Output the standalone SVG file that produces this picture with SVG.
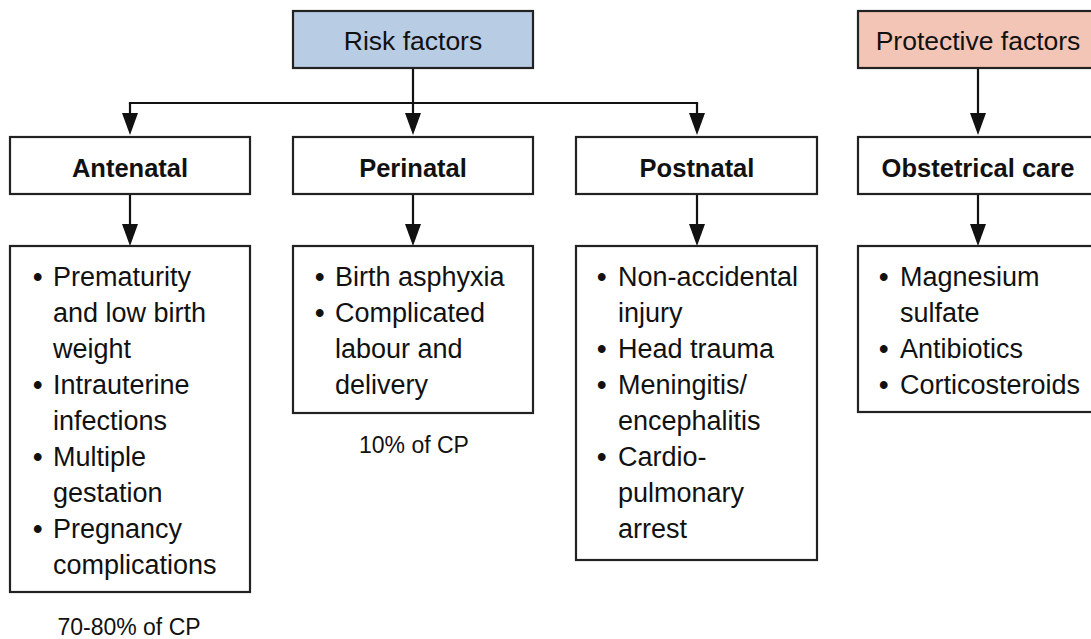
<svg xmlns="http://www.w3.org/2000/svg" width="1091" height="639" viewBox="0 0 1091 639">
<style>
.box{fill:#fff;stroke:#222;stroke-width:2.2}
.risk{fill:#b8cce4}
.prot{fill:#f3c5b6}
.t{font-family:"Liberation Sans",Arial,sans-serif;fill:#111}
.title{font-size:26.5px;text-anchor:middle}
.hdr{font-size:25.5px;font-weight:bold;text-anchor:middle}
.li{font-size:27px}
.b{font-weight:bold}
.note{font-size:23px;text-anchor:middle}
.conn{fill:none;stroke:#111;stroke-width:2.2}
</style>
<defs>
<marker id="ah" markerUnits="userSpaceOnUse" markerWidth="22" markerHeight="16" refX="18" refY="8" orient="auto">
<path d="M0,0 L22,8 L0,16 z" fill="#111"/>
</marker>
</defs>
<rect width="1091" height="639" fill="#fff"/>
<g id="connectors">
<path class="conn" d="M413,68 V131" marker-end="url(#ah)"/>
<path class="conn" d="M130,103 H697" stroke-linecap="square"/>
<path class="conn" d="M130,103 V131" marker-end="url(#ah)"/>
<path class="conn" d="M697,103 V131" marker-end="url(#ah)"/>
<path class="conn" d="M978,68 V131" marker-end="url(#ah)"/>
<path class="conn" d="M130,194 V242" marker-end="url(#ah)"/>
<path class="conn" d="M413,194 V242" marker-end="url(#ah)"/>
<path class="conn" d="M697,194 V242" marker-end="url(#ah)"/>
<path class="conn" d="M978,194 V242" marker-end="url(#ah)"/>
</g>
<g id="risk-factors">
<rect class="box risk" x="293" y="11" width="240" height="57"/>
<text class="t title" x="413" y="50">Risk factors</text>
</g>
<g id="protective-factors">
<rect class="box prot" x="858" y="11" width="240" height="57"/>
<text class="t title" x="978" y="50">Protective factors</text>
</g>
<g id="antenatal">
<rect class="box" x="10" y="137" width="240" height="57"/>
<text class="t hdr" x="130" y="177">Antenatal</text>
</g>
<g id="perinatal">
<rect class="box" x="293" y="137" width="240" height="57"/>
<text class="t hdr" x="413" y="177">Perinatal</text>
</g>
<g id="postnatal">
<rect class="box" x="576" y="137" width="241" height="57"/>
<text class="t hdr" x="697" y="177">Postnatal</text>
</g>
<g id="obstetrical-care">
<rect class="box" x="858" y="137" width="240" height="57"/>
<text class="t hdr" x="978" y="177">Obstetrical care</text>
</g>
<g id="antenatal-list">
<rect class="box" x="10" y="246" width="240" height="346"/>
<text class="t li"><tspan class="b" x="33" y="286">•</tspan><tspan x="53" y="286">Prematurity</tspan><tspan x="53" y="322">and low birth</tspan><tspan x="53" y="358">weight</tspan><tspan class="b" x="33" y="394">•</tspan><tspan x="53" y="394">Intrauterine</tspan><tspan x="53" y="430">infections</tspan><tspan class="b" x="33" y="466">•</tspan><tspan x="53" y="466">Multiple</tspan><tspan x="53" y="502">gestation</tspan><tspan class="b" x="33" y="538">•</tspan><tspan x="53" y="538">Pregnancy</tspan><tspan x="53" y="574">complications</tspan></text>
</g>
<g id="antenatal-note">
<text class="t note" x="129" y="635">70-80% of CP</text>
</g>
<g id="perinatal-list">
<rect class="box" x="293" y="246" width="240" height="167"/>
<text class="t li"><tspan class="b" x="315" y="286">•</tspan><tspan x="335" y="286">Birth asphyxia</tspan><tspan class="b" x="315" y="322">•</tspan><tspan x="335" y="322">Complicated</tspan><tspan x="335" y="358">labour and</tspan><tspan x="335" y="394">delivery</tspan></text>
</g>
<g id="perinatal-note">
<text class="t note" x="414" y="453">10% of CP</text>
</g>
<g id="postnatal-list">
<rect class="box" x="576" y="246" width="241" height="314"/>
<text class="t li"><tspan class="b" x="597" y="286">•</tspan><tspan x="618" y="286">Non-accidental</tspan><tspan x="618" y="322">injury</tspan><tspan class="b" x="597" y="358">•</tspan><tspan x="618" y="358">Head trauma</tspan><tspan class="b" x="597" y="394">•</tspan><tspan x="618" y="394">Meningitis/</tspan><tspan x="618" y="430">encephalitis</tspan><tspan class="b" x="597" y="466">•</tspan><tspan x="618" y="466">Cardio-</tspan><tspan x="618" y="502">pulmonary</tspan><tspan x="618" y="538">arrest</tspan></text>
</g>
<g id="obstetrical-list">
<rect class="box" x="858" y="246" width="240" height="166"/>
<text class="t li"><tspan class="b" x="879" y="286">•</tspan><tspan x="900" y="286">Magnesium</tspan><tspan x="900" y="322">sulfate</tspan><tspan class="b" x="879" y="358">•</tspan><tspan x="900" y="358">Antibiotics</tspan><tspan class="b" x="879" y="394">•</tspan><tspan x="900" y="394">Corticosteroids</tspan></text>
</g>
</svg>
